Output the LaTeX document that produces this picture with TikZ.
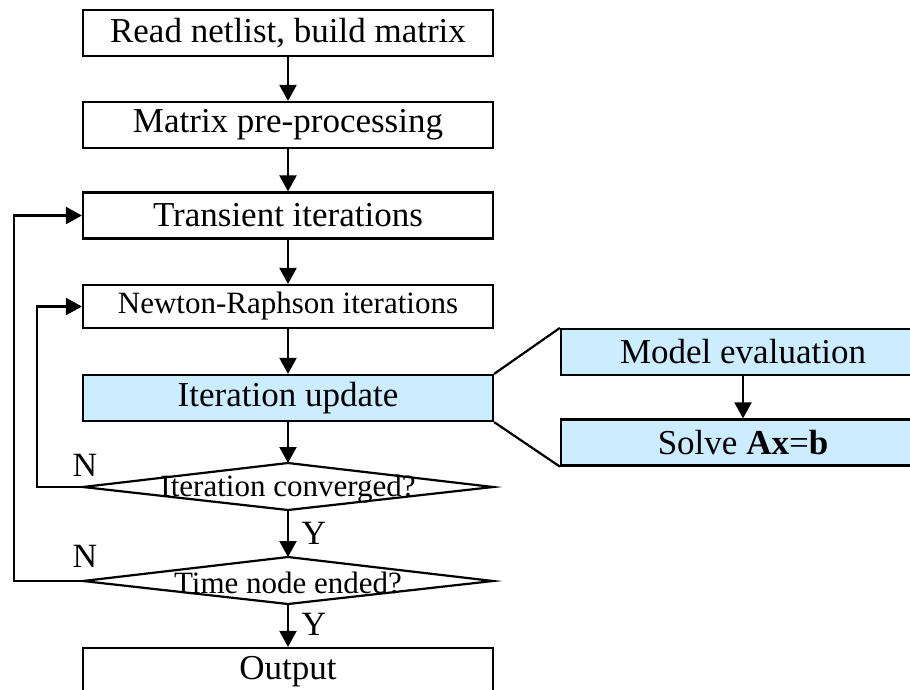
\documentclass[tikz,border=0pt]{standalone}
\usepackage{fontspec}
\setmainfont{Liberation Serif}
\usetikzlibrary{arrows.meta}
\definecolor{procblue}{RGB}{204,236,255}
\tikzset{
  stepbox/.style={draw, line width=2.2pt, minimum width=410pt, minimum height=46pt,
    inner sep=0pt, font=\fontsize{35}{40}\selectfont},
  subbox/.style={stepbox, fill=procblue, minimum width=364pt},
  decisiontext/.style={inner sep=0pt, font=\fontsize{31}{36}\selectfont},
  flowlabel/.style={inner sep=0pt, font=\fontsize{34}{38}\selectfont},
  arr/.style={line width=2.2pt, -{Triangle[length=16pt,width=17pt]}},
  edge/.style={line width=2.2pt},
}
\begin{document}
\begin{tikzpicture}[x=1pt,y=-1pt]
\useasboundingbox (0,0) rectangle (910,689);
\clip (0,0) rectangle (910,689);

% main column
\node[stepbox] (read)   at (288,33)    {Read netlist, build matrix};
\node[stepbox] (pre)    at (288,125)   {Matrix pre-processing};
\node[stepbox] (trans)  at (288,215.5) {Transient iterations};
\node[stepbox, minimum height=43pt, font=\fontsize{31}{36}\selectfont] (nr) at (288,306.5) {Newton-Raphson iterations};
\node[stepbox, fill=procblue] (upd) at (288,398) {Iteration update};

% decision diamonds
\coordinate (d1t) at (288,463);
\coordinate (d1b) at (288,510);
\coordinate (d1l) at (83,487);
\coordinate (d1r) at (493,487);
\draw[edge] (d1t) -- (d1r) -- (d1b) -- (d1l) -- cycle;
\node[decisiontext] (conv) at (288,489) {Iteration converged?};

\coordinate (d2t) at (288,557);
\coordinate (d2b) at (288,604);
\coordinate (d2l) at (83,581);
\coordinate (d2r) at (493,581);
\draw[edge] (d2t) -- (d2r) -- (d2b) -- (d2l) -- cycle;
\node[decisiontext] (tend) at (288,583) {Time node ended?};

\node[stepbox, minimum height=48pt] (out) at (288,672) {Output};

% detail of the iteration update
\node[subbox] (model) at (743,352)   {Model evaluation};
\node[subbox] (solve) at (743,442.5) {Solve \textbf{Ax}=\textbf{b}};
\draw[edge] (upd.north east) -- (model.north west);
\draw[edge] (upd.south east) -- (solve.south west);
\draw[arr] (model) -- (solve);

% forward flow
\draw[arr] (read) -- (pre);
\draw[arr] (pre) -- (trans);
\draw[arr] (trans) -- (nr);
\draw[arr] (nr) -- (upd);
\draw[arr] (upd) -- (d1t);
\draw[arr] (d1b) -- (d2t);
\draw[arr] (d2b) -- (out);

% feedback loops
\draw[arr] (d1l) -- ++(-46,0) |- (nr.west);
\draw[arr] (d2l) -- ++(-69,0) |- (trans.west);

% branch labels
\node[flowlabel] (n1) at (85,465) {N};
\node[flowlabel] (n2) at (85,556) {N};
\node[flowlabel] (y1) at (314,533) {Y};
\node[flowlabel] (y2) at (314,624) {Y};
\end{tikzpicture}
\end{document}
